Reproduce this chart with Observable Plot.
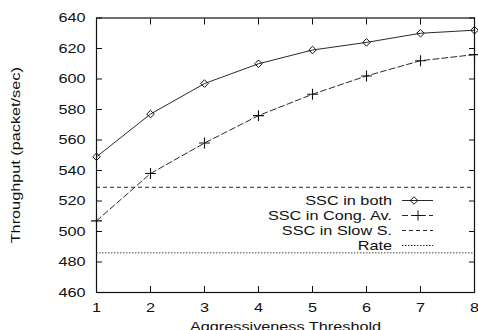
<!DOCTYPE html>
<html><head><meta charset="utf-8">
<script src="https://cdn.jsdelivr.net/npm/d3@7"></script>
<script src="https://cdn.jsdelivr.net/npm/@observablehq/plot@0.6"></script>
<style>
body{margin:0;background:#fff;}
#chart svg{display:block;}
</style>
</head><body><div id="chart"></div>
<script>
const thresholds = [1, 2, 3, 4, 5, 6, 7, 8];
const sscBoth = [549, 577, 597, 610, 619, 624, 630, 632];
const sscCongAv = [507, 538, 558, 576, 590, 602, 612, 616];
const sscSlowS = 529;
const rate = 486;
const yTicks = [460, 480, 500, 520, 540, 560, 580, 600, 620, 640];
const legendLabels = ["SSC in both", "SSC in Cong. Av.", "SSC in Slow S.", "Rate"];

const both = thresholds.map((t, i) => ({t, v: sscBoth[i]}));
const cong = thresholds.map((t, i) => ({t, v: sscCongAv[i]}));
const ink = "#111";
const font = "'Liberation Sans', Arial, sans-serif";
const fontSize = 12.8;
const stretch = 1.27;

const plot = Plot.plot({
  width: 478, height: 330,
  marginLeft: 96, marginRight: 4, marginTop: 17.5, marginBottom: 38,
  style: {fontFamily: font, fontSize: fontSize + "px", color: ink, background: "#fff"},
  x: {domain: [1, 8], ticks: thresholds},
  y: {domain: [460, 640], ticks: yTicks},
  marks: [
    Plot.ruleY([sscSlowS], {stroke: ink, strokeWidth: 0.9, strokeDasharray: "4,3"}),
    Plot.ruleY([rate], {stroke: "#333", strokeWidth: 0.9, strokeDasharray: "1.5,1.5"}),
    Plot.line(cong, {x: "t", y: "v", stroke: ink, strokeWidth: 0.9, strokeDasharray: "6,3"}),
    Plot.dot(cong, {x: "t", y: "v", symbol: "plus", r: 3.6, stroke: ink, strokeWidth: 1.1}),
    Plot.line(both, {x: "t", y: "v", stroke: ink, strokeWidth: 0.9}),
    Plot.dot(both, {x: "t", y: "v", symbol: "diamond2", r: 3.4, stroke: ink, fill: "none", strokeWidth: 1}),
    Plot.axisY({ticks: yTicks, tickSize: 0, tickPadding: 11, label: "Throughput (packet/sec)", labelAnchor: "center", labelArrow: "none", labelOffset: 86}),
    Plot.axisY({ticks: yTicks, tickSize: -6, tickFormat: () => "", label: null}),
    Plot.axisY({ticks: yTicks, anchor: "right", tickSize: -6, tickFormat: () => "", label: null}),
    Plot.axisX({ticks: thresholds, tickSize: 0, tickPadding: 10.5, tickFormat: d3.format("d"), label: "Aggressiveness Threshold", labelAnchor: "center", labelArrow: "none", labelOffset: 38.5}),
    Plot.axisX({ticks: thresholds, tickSize: -6, tickFormat: () => "", label: null}),
    Plot.axisX({ticks: thresholds, anchor: "top", tickSize: -6, tickFormat: () => "", label: null}),
    Plot.frame({stroke: ink, strokeWidth: 1.2})
  ]
});
document.getElementById("chart").appendChild(plot);

// legend inside plot area
const svg = d3.select(plot);
const lg = svg.append("g").attr("font-family", font).attr("font-size", fontSize).attr("fill", ink);
const styles = [
  {dash: null, sym: d3.symbolDiamond2 || d3.symbolDiamond, mx: 414},
  {dash: "6,3", sym: d3.symbolPlus, mx: 418},
  {dash: "4,3", sym: null},
  {dash: "1.5,1.5", sym: null}
];
legendLabels.forEach((lab, i) => {
  const yy = 200.5 + i * 15;
  lg.append("text").attr("transform", `translate(392,${yy})`).attr("dy", "0.35em").attr("text-anchor", "end").text(lab);
  lg.append("line").attr("x1", 402).attr("x2", 433).attr("y1", yy).attr("y2", yy)
    .attr("stroke", ink).attr("stroke-width", 0.9).attr("stroke-dasharray", styles[i].dash);
  if (styles[i].sym) {
    lg.append("path").attr("transform", `translate(${styles[i].mx},${yy})`)
      .attr("d", d3.symbol(styles[i].sym, 36)())
      .attr("fill", "none").attr("stroke", ink).attr("stroke-width", 1);
  }
});

// the reference's lettering is wide: stretch each text along its own direction
svg.selectAll("text").each(function() {
  const t = this.getAttribute("transform") || "";
  this.setAttribute("transform", `${t} scale(${stretch},1)`.trim());
});
</script>
</body></html>
